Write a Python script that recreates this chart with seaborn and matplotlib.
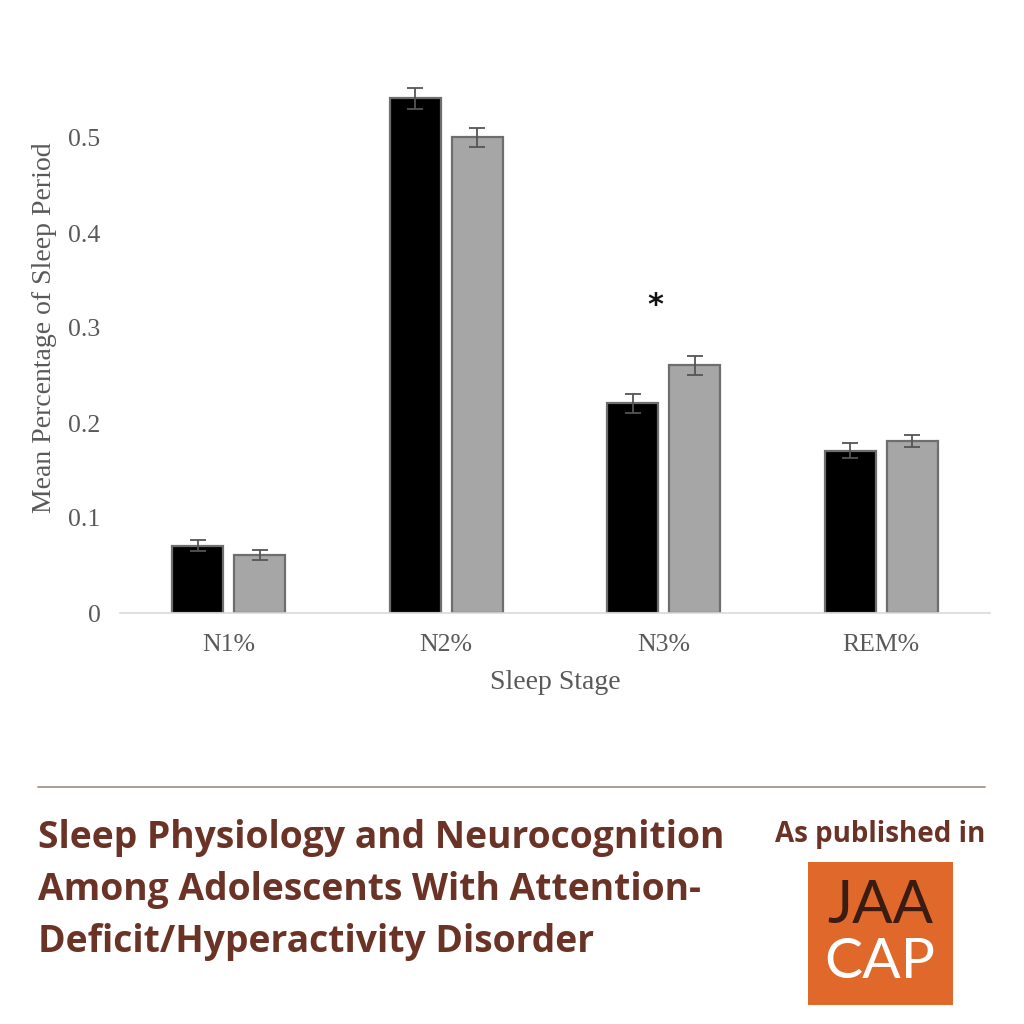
import pandas as pd
import matplotlib.pyplot as plt
import seaborn as sns
from matplotlib.patches import Rectangle
from matplotlib.lines import Line2D

# values
stages = ["N1%", "N2%", "N3%", "REM%"]
groups = ["ADHD", "Control"]
adhd_mean = [0.071, 0.542, 0.221, 0.171]
control_mean = [0.061, 0.501, 0.261, 0.181]
adhd_err = [0.006, 0.011, 0.010, 0.008]
control_err = [0.005, 0.010, 0.010, 0.006]
yticks = [0, 0.1, 0.2, 0.3, 0.4, 0.5]
ytick_labels = ["0", "0.1", "0.2", "0.3", "0.4", "0.5"]
star_stage = "N3%"
star_y = 0.324

title_lines = ["Sleep Physiology and Neurocognition",
               "Among Adolescents With Attention-",
               "Deficit/Hyperactivity Disorder"]

df = pd.DataFrame({
    "stage": stages * 2,
    "group": [groups[0]] * 4 + [groups[1]] * 4,
    "mean": adhd_mean + control_mean,
    "err": adhd_err + control_err,
})

sns.set_theme(style="white")
plt.rcParams['font.family'] = ['Liberation Serif', 'DejaVu Serif']

fig = plt.figure(figsize=(10.24, 10.24), dpi=100)
ax = fig.add_axes([120 / 1024, 1 - 613 / 1024, 870 / 1024, 570 / 1024])

palette = {"ADHD": "#000000", "Control": "#a6a6a6"}
sns.barplot(data=df, x="stage", y="mean", hue="group", order=stages,
            hue_order=groups, palette=palette, errorbar=None, width=0.57,
            gap=0.18, edgecolor="#6e6e6e", linewidth=1.6, legend=False, ax=ax)

# error bars placed on the bar centres
for container, g in zip(ax.containers, groups):
    sub = df[df["group"] == g].set_index("stage").loc[stages]
    xs = [p.get_x() + p.get_width() / 2 for p in container.patches]
    ax.errorbar(xs, sub["mean"], yerr=sub["err"], fmt="none",
                ecolor="#555555", elinewidth=1.3, capsize=6, capthick=1.3)

ax.text(stages.index(star_stage) - 0.04, star_y, "*", ha="center", va="center",
        fontsize=22, fontweight="bold", color="#111111", family="DejaVu Sans")

ax.set_xlim(-0.5, 3.5)
ax.set_ylim(0, 0.6)
ax.set_yticks(yticks)
ax.set_yticklabels(ytick_labels)
ax.tick_params(axis="both", labelsize=18.5, colors="#595959", length=0)
ax.tick_params(axis="y", pad=14)
ax.tick_params(axis="x", pad=15)
for s in ["top", "right", "left"]:
    ax.spines[s].set_visible(False)
ax.spines["bottom"].set_color("#d9d9d9")
ax.spines["bottom"].set_linewidth(1.2)
ax.set_xlabel("Sleep Stage", fontsize=20, color="#595959", labelpad=10)
ax.set_ylabel("Mean Percentage of Sleep Period", fontsize=20, color="#595959",
              labelpad=8)

# footer: rule, title, journal badge
brown = "#6b3226"
fig.add_artist(Line2D([38 / 1024, 985 / 1024], [1 - 787 / 1024] * 2,
                      color="#a39690", linewidth=1.3))
for i, line in enumerate(title_lines):
    fig.text(38 / 1024, 1 - (848 + 52 * i) / 1024, line, ha="left", va="baseline",
             fontsize=26.8, fontweight="bold", color=brown, family="Open Sans")
fig.text(985 / 1024, 1 - 842 / 1024, "As published in", ha="right", va="baseline",
         fontsize=20, fontweight="bold", color=brown, family="Open Sans")
fig.add_artist(Rectangle((808 / 1024, 1 - 1005 / 1024), 145 / 1024, 143 / 1024,
                         facecolor="#e0682b", edgecolor="none"))
fig.text(880 / 1024, 1 - 923 / 1024, "JAA", ha="center", va="baseline",
         fontsize=43, fontweight="normal", color="#3a1c12", family="Lato")
fig.text(880 / 1024, 1 - 978 / 1024, "CAP", ha="center", va="baseline",
         fontsize=41, fontweight="normal", color="white", family="Lato")

fig.savefig("out.png", dpi=100, facecolor="white")
